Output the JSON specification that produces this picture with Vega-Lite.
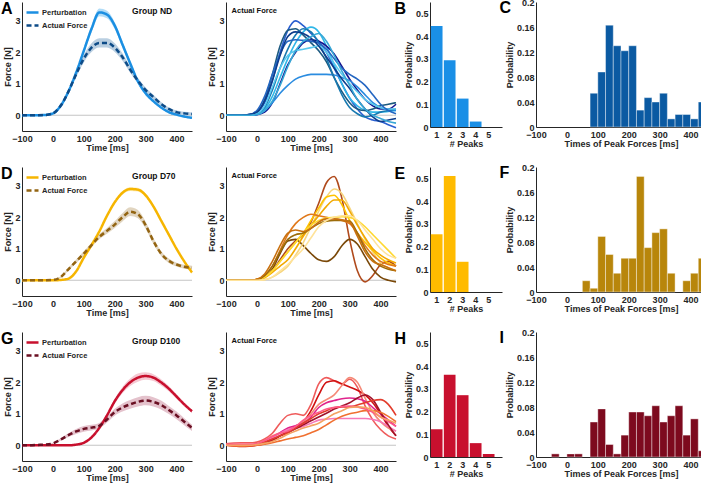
{
"$schema": "https://vega.github.io/schema/vega-lite/v6.json",
"padding": {"left": 0, "top": -2, "right": 0, "bottom": 0},
"autosize": {"type": "pad"},
"config": {
  "font": "Liberation Sans",
  "view": {"stroke": null},
  "axis": {"grid": false, "ticks": false, "labelOverlap": false, "labelFlush": false, "domainColor": "#262626", "domainWidth": 1, "labelFont": "Liberation Sans", "labelFontSize": 9, "labelFontWeight": "bold", "labelColor": "#262626", "titleFont": "Liberation Sans", "titleFontSize": 9, "titleFontWeight": "bold", "titleColor": "#262626"},
  "axisX": {"labelPadding": 3.5, "titlePadding": 0},
  "axisY": {"labelPadding": 2, "titlePadding": 2},
  "legend": {"padding": 0, "labelFont": "Liberation Sans", "labelFontSize": 7.5, "labelFontWeight": "bold", "labelColor": "#262626", "symbolStrokeWidth": 2.5, "symbolSize": 144, "rowPadding": -3, "labelOffset": 2},
  "title": {"anchor": "start", "frame": "bounds", "fontSize": 16, "fontWeight": "bold", "font": "Liberation Sans", "color": "#000000", "offset": -15, "baseline": "top"}
},
"datasets": {
"m1": [
{"s":"Perturbation","t":-100,"m":0,"lo":0,"hi":0},{"s":"Perturbation","t":-75,"m":0,"lo":0,"hi":0},{"s":"Perturbation","t":-50,"m":0,"lo":0,"hi":0},{"s":"Perturbation","t":-25,"m":0.01,"lo":0.005,"hi":0.015},{"s":"Perturbation","t":0,"m":0.06,"lo":0.05,"hi":0.07},{"s":"Perturbation","t":25,"m":0.3,"lo":0.27,"hi":0.33},{"s":"Perturbation","t":50,"m":0.75,"lo":0.7,"hi":0.8},{"s":"Perturbation","t":75,"m":1.35,"lo":1.28,"hi":1.42},{"s":"Perturbation","t":100,"m":2.05,"lo":1.96,"hi":2.14},{"s":"Perturbation","t":125,"m":2.75,"lo":2.64,"hi":2.86},{"s":"Perturbation","t":150,"m":3.27,"lo":3.15,"hi":3.39},{"s":"Perturbation","t":175,"m":3.2,"lo":3.08,"hi":3.32},{"s":"Perturbation","t":200,"m":2.85,"lo":2.74,"hi":2.96},{"s":"Perturbation","t":225,"m":2.25,"lo":2.15,"hi":2.35},{"s":"Perturbation","t":250,"m":1.65,"lo":1.56,"hi":1.74},{"s":"Perturbation","t":275,"m":1.08,"lo":1.01,"hi":1.15},{"s":"Perturbation","t":300,"m":0.7,"lo":0.64,"hi":0.76},{"s":"Perturbation","t":325,"m":0.45,"lo":0.4,"hi":0.5},{"s":"Perturbation","t":350,"m":0.25,"lo":0.21,"hi":0.29},{"s":"Perturbation","t":375,"m":0.1,"lo":0.06,"hi":0.14},{"s":"Perturbation","t":400,"m":0.02,"lo":-0.02,"hi":0.06},{"s":"Perturbation","t":425,"m":-0.04,"lo":-0.08,"hi":0},{"s":"Perturbation","t":450,"m":-0.08,"lo":-0.12,"hi":-0.04},
{"s":"Actual Force","t":-100,"m":0,"lo":0,"hi":0},{"s":"Actual Force","t":-75,"m":0,"lo":0,"hi":0},{"s":"Actual Force","t":-50,"m":0,"lo":0,"hi":0},{"s":"Actual Force","t":-25,"m":0.01,"lo":0.005,"hi":0.015},{"s":"Actual Force","t":0,"m":0.06,"lo":0.05,"hi":0.07},{"s":"Actual Force","t":25,"m":0.3,"lo":0.27,"hi":0.33},{"s":"Actual Force","t":50,"m":0.75,"lo":0.69,"hi":0.81},{"s":"Actual Force","t":75,"m":1.3,"lo":1.21,"hi":1.39},{"s":"Actual Force","t":100,"m":1.8,"lo":1.68,"hi":1.92},{"s":"Actual Force","t":125,"m":2.15,"lo":2.01,"hi":2.29},{"s":"Actual Force","t":150,"m":2.3,"lo":2.15,"hi":2.45},{"s":"Actual Force","t":175,"m":2.3,"lo":2.15,"hi":2.45},{"s":"Actual Force","t":200,"m":2.15,"lo":2.01,"hi":2.29},{"s":"Actual Force","t":225,"m":1.85,"lo":1.73,"hi":1.97},{"s":"Actual Force","t":250,"m":1.45,"lo":1.35,"hi":1.55},{"s":"Actual Force","t":275,"m":1.1,"lo":1.01,"hi":1.19},{"s":"Actual Force","t":300,"m":0.8,"lo":0.72,"hi":0.88},{"s":"Actual Force","t":325,"m":0.58,"lo":0.51,"hi":0.65},{"s":"Actual Force","t":350,"m":0.36,"lo":0.3,"hi":0.42},{"s":"Actual Force","t":375,"m":0.2,"lo":0.15,"hi":0.25},{"s":"Actual Force","t":400,"m":0.1,"lo":0.05,"hi":0.15},{"s":"Actual Force","t":425,"m":0.06,"lo":0.01,"hi":0.11},{"s":"Actual Force","t":450,"m":0.04,"lo":-0.01,"hi":0.09}
],
"m2": [
{"s":"Perturbation","t":-100,"m":0,"lo":0,"hi":0},{"s":"Perturbation","t":-75,"m":0,"lo":0,"hi":0},{"s":"Perturbation","t":-50,"m":0,"lo":0,"hi":0},{"s":"Perturbation","t":-25,"m":0,"lo":0,"hi":0},{"s":"Perturbation","t":0,"m":0,"lo":0,"hi":0},{"s":"Perturbation","t":25,"m":0.01,"lo":0.005,"hi":0.015},{"s":"Perturbation","t":50,"m":0.05,"lo":0.04,"hi":0.06},{"s":"Perturbation","t":75,"m":0.28,"lo":0.26,"hi":0.3},{"s":"Perturbation","t":100,"m":0.72,"lo":0.69,"hi":0.75},{"s":"Perturbation","t":125,"m":1.12,"lo":1.08,"hi":1.16},{"s":"Perturbation","t":150,"m":1.55,"lo":1.5,"hi":1.6},{"s":"Perturbation","t":175,"m":2.05,"lo":2.0,"hi":2.1},{"s":"Perturbation","t":200,"m":2.48,"lo":2.43,"hi":2.53},{"s":"Perturbation","t":225,"m":2.78,"lo":2.72,"hi":2.84},{"s":"Perturbation","t":250,"m":2.9,"lo":2.84,"hi":2.96},{"s":"Perturbation","t":275,"m":2.88,"lo":2.82,"hi":2.94},{"s":"Perturbation","t":300,"m":2.7,"lo":2.64,"hi":2.76},{"s":"Perturbation","t":325,"m":2.35,"lo":2.3,"hi":2.4},{"s":"Perturbation","t":350,"m":1.9,"lo":1.85,"hi":1.95},{"s":"Perturbation","t":375,"m":1.45,"lo":1.4,"hi":1.5},{"s":"Perturbation","t":400,"m":1.0,"lo":0.95,"hi":1.05},{"s":"Perturbation","t":425,"m":0.6,"lo":0.55,"hi":0.65},{"s":"Perturbation","t":450,"m":0.25,"lo":0.2,"hi":0.3},
{"s":"Actual Force","t":-100,"m":0,"lo":0,"hi":0},{"s":"Actual Force","t":-75,"m":0,"lo":0,"hi":0},{"s":"Actual Force","t":-50,"m":0,"lo":0,"hi":0},{"s":"Actual Force","t":-25,"m":0,"lo":0,"hi":0},{"s":"Actual Force","t":0,"m":0.01,"lo":0.005,"hi":0.015},{"s":"Actual Force","t":25,"m":0.1,"lo":0.07,"hi":0.13},{"s":"Actual Force","t":50,"m":0.35,"lo":0.3,"hi":0.4},{"s":"Actual Force","t":75,"m":0.6,"lo":0.54,"hi":0.66},{"s":"Actual Force","t":100,"m":0.85,"lo":0.78,"hi":0.92},{"s":"Actual Force","t":125,"m":1.12,"lo":1.05,"hi":1.19},{"s":"Actual Force","t":150,"m":1.38,"lo":1.3,"hi":1.46},{"s":"Actual Force","t":175,"m":1.57,"lo":1.48,"hi":1.66},{"s":"Actual Force","t":200,"m":1.77,"lo":1.66,"hi":1.88},{"s":"Actual Force","t":225,"m":2.0,"lo":1.87,"hi":2.13},{"s":"Actual Force","t":250,"m":2.18,"lo":2.04,"hi":2.32},{"s":"Actual Force","t":275,"m":2.1,"lo":1.97,"hi":2.23},{"s":"Actual Force","t":300,"m":1.75,"lo":1.64,"hi":1.86},{"s":"Actual Force","t":325,"m":1.25,"lo":1.16,"hi":1.34},{"s":"Actual Force","t":350,"m":0.85,"lo":0.77,"hi":0.93},{"s":"Actual Force","t":375,"m":0.62,"lo":0.55,"hi":0.69},{"s":"Actual Force","t":400,"m":0.5,"lo":0.44,"hi":0.56},{"s":"Actual Force","t":425,"m":0.43,"lo":0.37,"hi":0.49},{"s":"Actual Force","t":450,"m":0.4,"lo":0.34,"hi":0.46}
],
"m3": [
{"s":"Perturbation","t":-100,"m":0,"lo":0,"hi":0},{"s":"Perturbation","t":-75,"m":0,"lo":0,"hi":0},{"s":"Perturbation","t":-50,"m":0,"lo":0,"hi":0},{"s":"Perturbation","t":-25,"m":0,"lo":0,"hi":0},{"s":"Perturbation","t":0,"m":0,"lo":0,"hi":0},{"s":"Perturbation","t":25,"m":0,"lo":0,"hi":0},{"s":"Perturbation","t":50,"m":0,"lo":0,"hi":0},{"s":"Perturbation","t":75,"m":0.02,"lo":0.015,"hi":0.025},{"s":"Perturbation","t":100,"m":0.08,"lo":0.07,"hi":0.09},{"s":"Perturbation","t":125,"m":0.25,"lo":0.23,"hi":0.27},{"s":"Perturbation","t":150,"m":0.55,"lo":0.51,"hi":0.59},{"s":"Perturbation","t":175,"m":0.95,"lo":0.89,"hi":1.01},{"s":"Perturbation","t":200,"m":1.4,"lo":1.32,"hi":1.48},{"s":"Perturbation","t":225,"m":1.75,"lo":1.65,"hi":1.85},{"s":"Perturbation","t":250,"m":2.0,"lo":1.88,"hi":2.12},{"s":"Perturbation","t":275,"m":2.15,"lo":2.02,"hi":2.28},{"s":"Perturbation","t":300,"m":2.2,"lo":2.08,"hi":2.32},{"s":"Perturbation","t":325,"m":2.15,"lo":2.04,"hi":2.26},{"s":"Perturbation","t":350,"m":2.0,"lo":1.9,"hi":2.1},{"s":"Perturbation","t":375,"m":1.8,"lo":1.72,"hi":1.88},{"s":"Perturbation","t":400,"m":1.55,"lo":1.48,"hi":1.62},{"s":"Perturbation","t":425,"m":1.3,"lo":1.24,"hi":1.36},{"s":"Perturbation","t":450,"m":1.08,"lo":1.02,"hi":1.14},
{"s":"Actual Force","t":-100,"m":0,"lo":0,"hi":0},{"s":"Actual Force","t":-75,"m":0,"lo":0,"hi":0},{"s":"Actual Force","t":-50,"m":0.01,"lo":0,"hi":0.02},{"s":"Actual Force","t":-25,"m":0.02,"lo":0.01,"hi":0.03},{"s":"Actual Force","t":0,"m":0.06,"lo":0.04,"hi":0.08},{"s":"Actual Force","t":25,"m":0.18,"lo":0.14,"hi":0.22},{"s":"Actual Force","t":50,"m":0.32,"lo":0.26,"hi":0.38},{"s":"Actual Force","t":75,"m":0.44,"lo":0.36,"hi":0.52},{"s":"Actual Force","t":100,"m":0.52,"lo":0.43,"hi":0.61},{"s":"Actual Force","t":125,"m":0.56,"lo":0.47,"hi":0.65},{"s":"Actual Force","t":150,"m":0.62,"lo":0.53,"hi":0.71},{"s":"Actual Force","t":175,"m":0.82,"lo":0.72,"hi":0.92},{"s":"Actual Force","t":200,"m":1.05,"lo":0.94,"hi":1.16},{"s":"Actual Force","t":225,"m":1.2,"lo":1.07,"hi":1.33},{"s":"Actual Force","t":250,"m":1.3,"lo":1.16,"hi":1.44},{"s":"Actual Force","t":275,"m":1.38,"lo":1.23,"hi":1.53},{"s":"Actual Force","t":300,"m":1.42,"lo":1.27,"hi":1.57},{"s":"Actual Force","t":325,"m":1.38,"lo":1.23,"hi":1.53},{"s":"Actual Force","t":350,"m":1.28,"lo":1.14,"hi":1.42},{"s":"Actual Force","t":375,"m":1.12,"lo":0.99,"hi":1.25},{"s":"Actual Force","t":400,"m":0.95,"lo":0.83,"hi":1.07},{"s":"Actual Force","t":425,"m":0.75,"lo":0.64,"hi":0.86},{"s":"Actual Force","t":450,"m":0.55,"lo":0.45,"hi":0.65}
],
"i1": [
{"c":"c1","t":-100,"f":0},{"c":"c1","t":-75,"f":0},{"c":"c1","t":-50,"f":0},{"c":"c1","t":-25,"f":0.02},{"c":"c1","t":0,"f":0.1},{"c":"c1","t":25,"f":0.4},{"c":"c1","t":50,"f":1.1},{"c":"c1","t":75,"f":2.0},{"c":"c1","t":100,"f":2.7},{"c":"c1","t":125,"f":3.0},{"c":"c1","t":150,"f":2.85},{"c":"c1","t":175,"f":2.6},{"c":"c1","t":200,"f":2.35},{"c":"c1","t":225,"f":2.0},{"c":"c1","t":250,"f":1.5},{"c":"c1","t":275,"f":1.0},{"c":"c1","t":300,"f":0.55},{"c":"c1","t":325,"f":0.2},{"c":"c1","t":350,"f":-0.05},{"c":"c1","t":375,"f":-0.15},{"c":"c1","t":400,"f":-0.2},{"c":"c1","t":425,"f":-0.3},{"c":"c1","t":450,"f":-0.4},
{"c":"c2","t":-100,"f":0},{"c":"c2","t":-75,"f":0},{"c":"c2","t":-50,"f":0},{"c":"c2","t":-25,"f":0},{"c":"c2","t":0,"f":0.05},{"c":"c2","t":25,"f":0.2},{"c":"c2","t":50,"f":0.6},{"c":"c2","t":75,"f":1.2},{"c":"c2","t":100,"f":1.8},{"c":"c2","t":125,"f":2.3},{"c":"c2","t":150,"f":2.65},{"c":"c2","t":175,"f":2.8},{"c":"c2","t":200,"f":2.65},{"c":"c2","t":225,"f":2.2},{"c":"c2","t":250,"f":1.6},{"c":"c2","t":275,"f":1.0},{"c":"c2","t":300,"f":0.55},{"c":"c2","t":325,"f":0.3},{"c":"c2","t":350,"f":0.15},{"c":"c2","t":375,"f":0.1},{"c":"c2","t":400,"f":0.1},{"c":"c2","t":425,"f":0.12},{"c":"c2","t":450,"f":0.15},
{"c":"c3","t":-100,"f":0},{"c":"c3","t":-75,"f":0},{"c":"c3","t":-50,"f":0},{"c":"c3","t":-25,"f":0},{"c":"c3","t":0,"f":0.02},{"c":"c3","t":25,"f":0.1},{"c":"c3","t":50,"f":0.4},{"c":"c3","t":75,"f":1.0},{"c":"c3","t":100,"f":1.6},{"c":"c3","t":125,"f":2.0},{"c":"c3","t":150,"f":2.3},{"c":"c3","t":175,"f":2.4},{"c":"c3","t":200,"f":2.35},{"c":"c3","t":225,"f":2.2},{"c":"c3","t":250,"f":1.95},{"c":"c3","t":275,"f":1.55},{"c":"c3","t":300,"f":1.15},{"c":"c3","t":325,"f":0.8},{"c":"c3","t":350,"f":0.5},{"c":"c3","t":375,"f":0.3},{"c":"c3","t":400,"f":0.2},{"c":"c3","t":425,"f":0.2},{"c":"c3","t":450,"f":0.35},
{"c":"c4","t":-100,"f":0},{"c":"c4","t":-75,"f":0},{"c":"c4","t":-50,"f":0},{"c":"c4","t":-25,"f":0},{"c":"c4","t":0,"f":0.02},{"c":"c4","t":25,"f":0.15},{"c":"c4","t":50,"f":0.4},{"c":"c4","t":75,"f":0.7},{"c":"c4","t":100,"f":0.95},{"c":"c4","t":125,"f":1.15},{"c":"c4","t":150,"f":1.25},{"c":"c4","t":175,"f":1.3},{"c":"c4","t":200,"f":1.3},{"c":"c4","t":225,"f":1.3},{"c":"c4","t":250,"f":1.28},{"c":"c4","t":275,"f":1.2},{"c":"c4","t":300,"f":1.1},{"c":"c4","t":325,"f":0.9},{"c":"c4","t":350,"f":0.65},{"c":"c4","t":375,"f":0.4},{"c":"c4","t":400,"f":0.25},{"c":"c4","t":425,"f":0.18},{"c":"c4","t":450,"f":0.15},
{"c":"c5","t":-100,"f":0},{"c":"c5","t":-75,"f":0},{"c":"c5","t":-50,"f":0},{"c":"c5","t":-25,"f":0.02},{"c":"c5","t":0,"f":0.1},{"c":"c5","t":25,"f":0.5},{"c":"c5","t":50,"f":1.3},{"c":"c5","t":75,"f":2.2},{"c":"c5","t":100,"f":2.7},{"c":"c5","t":125,"f":2.75},{"c":"c5","t":150,"f":2.55},{"c":"c5","t":175,"f":2.3},{"c":"c5","t":200,"f":2.05},{"c":"c5","t":225,"f":1.7},{"c":"c5","t":250,"f":1.2},{"c":"c5","t":275,"f":0.75},{"c":"c5","t":300,"f":0.4},{"c":"c5","t":325,"f":0.2},{"c":"c5","t":350,"f":0.15},{"c":"c5","t":375,"f":0.2},{"c":"c5","t":400,"f":0.3},{"c":"c5","t":425,"f":0.35},{"c":"c5","t":450,"f":0.4},
{"c":"c6","t":-100,"f":0},{"c":"c6","t":-75,"f":0},{"c":"c6","t":-50,"f":0},{"c":"c6","t":-25,"f":0},{"c":"c6","t":0,"f":0.05},{"c":"c6","t":25,"f":0.25},{"c":"c6","t":50,"f":0.8},{"c":"c6","t":75,"f":1.5},{"c":"c6","t":100,"f":2.1},{"c":"c6","t":125,"f":2.55},{"c":"c6","t":150,"f":2.75},{"c":"c6","t":175,"f":2.65},{"c":"c6","t":200,"f":2.3},{"c":"c6","t":225,"f":1.8},{"c":"c6","t":250,"f":1.2},{"c":"c6","t":275,"f":0.65},{"c":"c6","t":300,"f":0.25},{"c":"c6","t":325,"f":0.05},{"c":"c6","t":350,"f":-0.05},{"c":"c6","t":375,"f":0},{"c":"c6","t":400,"f":0.1},{"c":"c6","t":425,"f":0.15},{"c":"c6","t":450,"f":0.2},
{"c":"c7","t":-100,"f":0},{"c":"c7","t":-75,"f":0},{"c":"c7","t":-50,"f":0},{"c":"c7","t":-25,"f":0},{"c":"c7","t":0,"f":0.05},{"c":"c7","t":25,"f":0.3},{"c":"c7","t":50,"f":0.9},{"c":"c7","t":75,"f":1.5},{"c":"c7","t":100,"f":1.9},{"c":"c7","t":125,"f":2.05},{"c":"c7","t":150,"f":2.1},{"c":"c7","t":175,"f":2.15},{"c":"c7","t":200,"f":2.2},{"c":"c7","t":225,"f":2.0},{"c":"c7","t":250,"f":1.65},{"c":"c7","t":275,"f":1.3},{"c":"c7","t":300,"f":1.0},{"c":"c7","t":325,"f":0.75},{"c":"c7","t":350,"f":0.5},{"c":"c7","t":375,"f":0.35},{"c":"c7","t":400,"f":0.25},{"c":"c7","t":425,"f":0.2},{"c":"c7","t":450,"f":0.2},
{"c":"c8","t":-100,"f":0},{"c":"c8","t":-75,"f":0},{"c":"c8","t":-50,"f":0},{"c":"c8","t":-25,"f":0.02},{"c":"c8","t":0,"f":0.15},{"c":"c8","t":25,"f":0.6},{"c":"c8","t":50,"f":1.3},{"c":"c8","t":75,"f":1.95},{"c":"c8","t":100,"f":2.35},{"c":"c8","t":125,"f":2.4},{"c":"c8","t":150,"f":2.38},{"c":"c8","t":175,"f":2.35},{"c":"c8","t":200,"f":2.3},{"c":"c8","t":225,"f":2.1},{"c":"c8","t":250,"f":1.8},{"c":"c8","t":275,"f":1.5},{"c":"c8","t":300,"f":1.3},{"c":"c8","t":325,"f":1.15},{"c":"c8","t":350,"f":0.95},{"c":"c8","t":375,"f":0.65},{"c":"c8","t":400,"f":0.35},{"c":"c8","t":425,"f":0.15},{"c":"c8","t":450,"f":0.05},
{"c":"c9","t":-100,"f":0},{"c":"c9","t":-75,"f":0},{"c":"c9","t":-50,"f":0},{"c":"c9","t":-25,"f":0.02},{"c":"c9","t":0,"f":0.1},{"c":"c9","t":25,"f":0.45},{"c":"c9","t":50,"f":1.1},{"c":"c9","t":75,"f":1.9},{"c":"c9","t":100,"f":2.5},{"c":"c9","t":125,"f":2.65},{"c":"c9","t":150,"f":2.6},{"c":"c9","t":175,"f":2.45},{"c":"c9","t":200,"f":2.2},{"c":"c9","t":225,"f":1.85},{"c":"c9","t":250,"f":1.5},{"c":"c9","t":275,"f":1.15},{"c":"c9","t":300,"f":0.85},{"c":"c9","t":325,"f":0.5},{"c":"c9","t":350,"f":0.2},{"c":"c9","t":375,"f":-0.05},{"c":"c9","t":400,"f":-0.2},{"c":"c9","t":425,"f":-0.15},{"c":"c9","t":450,"f":-0.1},
{"c":"c10","t":-100,"f":0},{"c":"c10","t":-75,"f":0},{"c":"c10","t":-50,"f":0},{"c":"c10","t":-25,"f":0},{"c":"c10","t":0,"f":0.03},{"c":"c10","t":25,"f":0.15},{"c":"c10","t":50,"f":0.45},{"c":"c10","t":75,"f":0.95},{"c":"c10","t":100,"f":1.55},{"c":"c10","t":125,"f":2.05},{"c":"c10","t":150,"f":2.35},{"c":"c10","t":175,"f":2.5},{"c":"c10","t":200,"f":2.6},{"c":"c10","t":225,"f":2.35},{"c":"c10","t":250,"f":1.9},{"c":"c10","t":275,"f":1.4},{"c":"c10","t":300,"f":0.95},{"c":"c10","t":325,"f":0.5},{"c":"c10","t":350,"f":0.2},{"c":"c10","t":375,"f":0},{"c":"c10","t":400,"f":-0.1},{"c":"c10","t":425,"f":-0.2},{"c":"c10","t":450,"f":-0.25}
],
"i2": [
{"c":"c1","t":-100,"f":0},{"c":"c1","t":-75,"f":0},{"c":"c1","t":-50,"f":0},{"c":"c1","t":-25,"f":0},{"c":"c1","t":0,"f":0.02},{"c":"c1","t":25,"f":0.1},{"c":"c1","t":50,"f":0.3},{"c":"c1","t":75,"f":0.65},{"c":"c1","t":100,"f":1.0},{"c":"c1","t":125,"f":1.25},{"c":"c1","t":150,"f":1.45},{"c":"c1","t":175,"f":1.85},{"c":"c1","t":200,"f":2.45},{"c":"c1","t":225,"f":3.1},{"c":"c1","t":250,"f":3.3},{"c":"c1","t":275,"f":2.6},{"c":"c1","t":300,"f":1.3},{"c":"c1","t":325,"f":0.3},{"c":"c1","t":350,"f":-0.05},{"c":"c1","t":375,"f":0.15},{"c":"c1","t":400,"f":0.5},{"c":"c1","t":425,"f":0.6},{"c":"c1","t":450,"f":0.45},
{"c":"c2","t":-100,"f":0},{"c":"c2","t":-75,"f":0},{"c":"c2","t":-50,"f":0},{"c":"c2","t":-25,"f":0},{"c":"c2","t":0,"f":0.02},{"c":"c2","t":25,"f":0.1},{"c":"c2","t":50,"f":0.35},{"c":"c2","t":75,"f":0.85},{"c":"c2","t":100,"f":1.25},{"c":"c2","t":125,"f":1.3},{"c":"c2","t":150,"f":1.1},{"c":"c2","t":175,"f":0.85},{"c":"c2","t":200,"f":0.65},{"c":"c2","t":225,"f":0.6},{"c":"c2","t":250,"f":0.75},{"c":"c2","t":275,"f":1.1},{"c":"c2","t":300,"f":1.3},{"c":"c2","t":325,"f":1.15},{"c":"c2","t":350,"f":0.75},{"c":"c2","t":375,"f":0.35},{"c":"c2","t":400,"f":0.1},{"c":"c2","t":425,"f":0},{"c":"c2","t":450,"f":-0.05},
{"c":"c3","t":-100,"f":0},{"c":"c3","t":-75,"f":0},{"c":"c3","t":-50,"f":0},{"c":"c3","t":-25,"f":0},{"c":"c3","t":0,"f":0},{"c":"c3","t":25,"f":0.02},{"c":"c3","t":50,"f":0.1},{"c":"c3","t":75,"f":0.25},{"c":"c3","t":100,"f":0.45},{"c":"c3","t":125,"f":0.8},{"c":"c3","t":150,"f":1.2},{"c":"c3","t":175,"f":1.7},{"c":"c3","t":200,"f":2.2},{"c":"c3","t":225,"f":2.65},{"c":"c3","t":250,"f":2.9},{"c":"c3","t":275,"f":2.75},{"c":"c3","t":300,"f":2.3},{"c":"c3","t":325,"f":1.8},{"c":"c3","t":350,"f":1.3},{"c":"c3","t":375,"f":0.9},{"c":"c3","t":400,"f":0.55},{"c":"c3","t":425,"f":0.4},{"c":"c3","t":450,"f":0.3},
{"c":"c4","t":-100,"f":0},{"c":"c4","t":-75,"f":0},{"c":"c4","t":-50,"f":0},{"c":"c4","t":-25,"f":0},{"c":"c4","t":0,"f":0.02},{"c":"c4","t":25,"f":0.1},{"c":"c4","t":50,"f":0.3},{"c":"c4","t":75,"f":0.6},{"c":"c4","t":100,"f":0.9},{"c":"c4","t":125,"f":1.2},{"c":"c4","t":150,"f":1.5},{"c":"c4","t":175,"f":1.9},{"c":"c4","t":200,"f":2.3},{"c":"c4","t":225,"f":2.65},{"c":"c4","t":250,"f":2.7},{"c":"c4","t":275,"f":2.4},{"c":"c4","t":300,"f":1.9},{"c":"c4","t":325,"f":1.5},{"c":"c4","t":350,"f":1.2},{"c":"c4","t":375,"f":0.95},{"c":"c4","t":400,"f":0.7},{"c":"c4","t":425,"f":0.55},{"c":"c4","t":450,"f":0.45},
{"c":"c5","t":-100,"f":0},{"c":"c5","t":-75,"f":0},{"c":"c5","t":-50,"f":0},{"c":"c5","t":-25,"f":0},{"c":"c5","t":0,"f":0.02},{"c":"c5","t":25,"f":0.08},{"c":"c5","t":50,"f":0.25},{"c":"c5","t":75,"f":0.45},{"c":"c5","t":100,"f":0.65},{"c":"c5","t":125,"f":1.0},{"c":"c5","t":150,"f":1.4},{"c":"c5","t":175,"f":1.75},{"c":"c5","t":200,"f":2.05},{"c":"c5","t":225,"f":2.35},{"c":"c5","t":250,"f":2.55},{"c":"c5","t":275,"f":2.55},{"c":"c5","t":300,"f":2.2},{"c":"c5","t":325,"f":1.75},{"c":"c5","t":350,"f":1.35},{"c":"c5","t":375,"f":1.0},{"c":"c5","t":400,"f":0.8},{"c":"c5","t":425,"f":0.65},{"c":"c5","t":450,"f":0.55},
{"c":"c6","t":-100,"f":0},{"c":"c6","t":-75,"f":0},{"c":"c6","t":-50,"f":0},{"c":"c6","t":-25,"f":0},{"c":"c6","t":0,"f":0.03},{"c":"c6","t":25,"f":0.15},{"c":"c6","t":50,"f":0.45},{"c":"c6","t":75,"f":0.95},{"c":"c6","t":100,"f":1.45},{"c":"c6","t":125,"f":1.8},{"c":"c6","t":150,"f":2.0},{"c":"c6","t":175,"f":2.1},{"c":"c6","t":200,"f":2.05},{"c":"c6","t":225,"f":2.0},{"c":"c6","t":250,"f":1.95},{"c":"c6","t":275,"f":1.9},{"c":"c6","t":300,"f":1.8},{"c":"c6","t":325,"f":1.5},{"c":"c6","t":350,"f":1.1},{"c":"c6","t":375,"f":0.8},{"c":"c6","t":400,"f":0.6},{"c":"c6","t":425,"f":0.5},{"c":"c6","t":450,"f":0.45},
{"c":"c7","t":-100,"f":0},{"c":"c7","t":-75,"f":0},{"c":"c7","t":-50,"f":0},{"c":"c7","t":-25,"f":0},{"c":"c7","t":0,"f":0.02},{"c":"c7","t":25,"f":0.1},{"c":"c7","t":50,"f":0.3},{"c":"c7","t":75,"f":0.6},{"c":"c7","t":100,"f":0.9},{"c":"c7","t":125,"f":1.2},{"c":"c7","t":150,"f":1.5},{"c":"c7","t":175,"f":1.75},{"c":"c7","t":200,"f":1.9},{"c":"c7","t":225,"f":1.98},{"c":"c7","t":250,"f":2.0},{"c":"c7","t":275,"f":2.02},{"c":"c7","t":300,"f":2.0},{"c":"c7","t":325,"f":1.9},{"c":"c7","t":350,"f":1.7},{"c":"c7","t":375,"f":1.45},{"c":"c7","t":400,"f":1.2},{"c":"c7","t":425,"f":0.95},{"c":"c7","t":450,"f":0.7},
{"c":"c8","t":-100,"f":0},{"c":"c8","t":-75,"f":0},{"c":"c8","t":-50,"f":0},{"c":"c8","t":-25,"f":0},{"c":"c8","t":0,"f":0.02},{"c":"c8","t":25,"f":0.15},{"c":"c8","t":50,"f":0.45},{"c":"c8","t":75,"f":0.9},{"c":"c8","t":100,"f":1.3},{"c":"c8","t":125,"f":1.45},{"c":"c8","t":150,"f":1.5},{"c":"c8","t":175,"f":1.65},{"c":"c8","t":200,"f":1.8},{"c":"c8","t":225,"f":1.88},{"c":"c8","t":250,"f":1.9},{"c":"c8","t":275,"f":1.9},{"c":"c8","t":300,"f":1.88},{"c":"c8","t":325,"f":1.5},{"c":"c8","t":350,"f":1.0},{"c":"c8","t":375,"f":0.65},{"c":"c8","t":400,"f":0.45},{"c":"c8","t":425,"f":0.35},{"c":"c8","t":450,"f":0.3},
{"c":"c9","t":-100,"f":0},{"c":"c9","t":-75,"f":0},{"c":"c9","t":-50,"f":0},{"c":"c9","t":-25,"f":0},{"c":"c9","t":0,"f":0.03},{"c":"c9","t":25,"f":0.2},{"c":"c9","t":50,"f":0.6},{"c":"c9","t":75,"f":1.1},{"c":"c9","t":100,"f":1.5},{"c":"c9","t":125,"f":1.6},{"c":"c9","t":150,"f":1.55},{"c":"c9","t":175,"f":1.65},{"c":"c9","t":200,"f":1.85},{"c":"c9","t":225,"f":1.95},{"c":"c9","t":250,"f":1.95},{"c":"c9","t":275,"f":1.92},{"c":"c9","t":300,"f":1.85},{"c":"c9","t":325,"f":1.4},{"c":"c9","t":350,"f":0.9},{"c":"c9","t":375,"f":0.6},{"c":"c9","t":400,"f":0.5},{"c":"c9","t":425,"f":0.4},{"c":"c9","t":450,"f":0.3},
{"c":"c10","t":-100,"f":0},{"c":"c10","t":-75,"f":0},{"c":"c10","t":-50,"f":0},{"c":"c10","t":-25,"f":0},{"c":"c10","t":0,"f":0},{"c":"c10","t":25,"f":0.02},{"c":"c10","t":50,"f":0.1},{"c":"c10","t":75,"f":0.3},{"c":"c10","t":100,"f":0.5},{"c":"c10","t":125,"f":0.75},{"c":"c10","t":150,"f":1.0},{"c":"c10","t":175,"f":1.35},{"c":"c10","t":200,"f":1.7},{"c":"c10","t":225,"f":1.9},{"c":"c10","t":250,"f":2.0},{"c":"c10","t":275,"f":2.05},{"c":"c10","t":300,"f":2.05},{"c":"c10","t":325,"f":1.9},{"c":"c10","t":350,"f":1.6},{"c":"c10","t":375,"f":1.3},{"c":"c10","t":400,"f":1.0},{"c":"c10","t":425,"f":0.8},{"c":"c10","t":450,"f":0.7}
],
"i3": [
{"c":"c1","t":-100,"f":0.05},{"c":"c1","t":-75,"f":0.07},{"c":"c1","t":-50,"f":0.08},{"c":"c1","t":-25,"f":0.08},{"c":"c1","t":0,"f":0.1},{"c":"c1","t":25,"f":0.2},{"c":"c1","t":50,"f":0.38},{"c":"c1","t":75,"f":0.7},{"c":"c1","t":100,"f":0.95},{"c":"c1","t":125,"f":1.0},{"c":"c1","t":150,"f":0.95},{"c":"c1","t":175,"f":1.3},{"c":"c1","t":200,"f":1.95},{"c":"c1","t":225,"f":2.15},{"c":"c1","t":250,"f":2.05},{"c":"c1","t":275,"f":1.95},{"c":"c1","t":300,"f":2.1},{"c":"c1","t":325,"f":1.85},{"c":"c1","t":350,"f":1.25},{"c":"c1","t":375,"f":0.8},{"c":"c1","t":400,"f":0.5},{"c":"c1","t":425,"f":0.3},{"c":"c1","t":450,"f":0.2},
{"c":"c2","t":-100,"f":0},{"c":"c2","t":-75,"f":-0.02},{"c":"c2","t":-50,"f":-0.04},{"c":"c2","t":-25,"f":-0.03},{"c":"c2","t":0,"f":0},{"c":"c2","t":25,"f":0.05},{"c":"c2","t":50,"f":0.15},{"c":"c2","t":75,"f":0.3},{"c":"c2","t":100,"f":0.45},{"c":"c2","t":125,"f":0.6},{"c":"c2","t":150,"f":0.75},{"c":"c2","t":175,"f":1.1},{"c":"c2","t":200,"f":1.6},{"c":"c2","t":225,"f":2.0},{"c":"c2","t":250,"f":2.05},{"c":"c2","t":275,"f":1.95},{"c":"c2","t":300,"f":1.85},{"c":"c2","t":325,"f":1.75},{"c":"c2","t":350,"f":1.6},{"c":"c2","t":375,"f":1.35},{"c":"c2","t":400,"f":1.0},{"c":"c2","t":425,"f":0.6},{"c":"c2","t":450,"f":0.3},
{"c":"c3","t":-100,"f":0.02},{"c":"c3","t":-75,"f":0.02},{"c":"c3","t":-50,"f":0.02},{"c":"c3","t":-25,"f":0.03},{"c":"c3","t":0,"f":0.05},{"c":"c3","t":25,"f":0.15},{"c":"c3","t":50,"f":0.3},{"c":"c3","t":75,"f":0.4},{"c":"c3","t":100,"f":0.5},{"c":"c3","t":125,"f":0.6},{"c":"c3","t":150,"f":0.75},{"c":"c3","t":175,"f":1.0},{"c":"c3","t":200,"f":1.3},{"c":"c3","t":225,"f":1.45},{"c":"c3","t":250,"f":1.6},{"c":"c3","t":275,"f":1.9},{"c":"c3","t":300,"f":2.15},{"c":"c3","t":325,"f":2.0},{"c":"c3","t":350,"f":1.5},{"c":"c3","t":375,"f":1.05},{"c":"c3","t":400,"f":0.75},{"c":"c3","t":425,"f":0.55},{"c":"c3","t":450,"f":0.45},
{"c":"c4","t":-100,"f":0},{"c":"c4","t":-75,"f":0},{"c":"c4","t":-50,"f":0},{"c":"c4","t":-25,"f":0},{"c":"c4","t":0,"f":0.03},{"c":"c4","t":25,"f":0.12},{"c":"c4","t":50,"f":0.25},{"c":"c4","t":75,"f":0.4},{"c":"c4","t":100,"f":0.55},{"c":"c4","t":125,"f":0.62},{"c":"c4","t":150,"f":0.7},{"c":"c4","t":175,"f":0.9},{"c":"c4","t":200,"f":1.2},{"c":"c4","t":225,"f":1.35},{"c":"c4","t":250,"f":1.42},{"c":"c4","t":275,"f":1.48},{"c":"c4","t":300,"f":1.5},{"c":"c4","t":325,"f":1.48},{"c":"c4","t":350,"f":1.4},{"c":"c4","t":375,"f":1.2},{"c":"c4","t":400,"f":1.0},{"c":"c4","t":425,"f":0.8},{"c":"c4","t":450,"f":0.6},
{"c":"c5","t":-100,"f":0},{"c":"c5","t":-75,"f":0},{"c":"c5","t":-50,"f":0},{"c":"c5","t":-25,"f":0},{"c":"c5","t":0,"f":0.03},{"c":"c5","t":25,"f":0.12},{"c":"c5","t":50,"f":0.25},{"c":"c5","t":75,"f":0.38},{"c":"c5","t":100,"f":0.5},{"c":"c5","t":125,"f":0.55},{"c":"c5","t":150,"f":0.6},{"c":"c5","t":175,"f":0.7},{"c":"c5","t":200,"f":0.8},{"c":"c5","t":225,"f":0.83},{"c":"c5","t":250,"f":0.85},{"c":"c5","t":275,"f":0.85},{"c":"c5","t":300,"f":0.85},{"c":"c5","t":325,"f":0.85},{"c":"c5","t":350,"f":0.85},{"c":"c5","t":375,"f":0.82},{"c":"c5","t":400,"f":0.75},{"c":"c5","t":425,"f":0.6},{"c":"c5","t":450,"f":0.45},
{"c":"c6","t":-100,"f":0},{"c":"c6","t":-75,"f":0},{"c":"c6","t":-50,"f":0},{"c":"c6","t":-25,"f":0},{"c":"c6","t":0,"f":0.02},{"c":"c6","t":25,"f":0.08},{"c":"c6","t":50,"f":0.18},{"c":"c6","t":75,"f":0.3},{"c":"c6","t":100,"f":0.4},{"c":"c6","t":125,"f":0.52},{"c":"c6","t":150,"f":0.65},{"c":"c6","t":175,"f":0.78},{"c":"c6","t":200,"f":0.9},{"c":"c6","t":225,"f":1.02},{"c":"c6","t":250,"f":1.15},{"c":"c6","t":275,"f":1.25},{"c":"c6","t":300,"f":1.35},{"c":"c6","t":325,"f":1.5},{"c":"c6","t":350,"f":1.6},{"c":"c6","t":375,"f":1.45},{"c":"c6","t":400,"f":1.05},{"c":"c6","t":425,"f":0.65},{"c":"c6","t":450,"f":0.3},
{"c":"c7","t":-100,"f":0},{"c":"c7","t":-75,"f":-0.02},{"c":"c7","t":-50,"f":-0.03},{"c":"c7","t":-25,"f":-0.02},{"c":"c7","t":0,"f":0},{"c":"c7","t":25,"f":0.03},{"c":"c7","t":50,"f":0.08},{"c":"c7","t":75,"f":0.14},{"c":"c7","t":100,"f":0.2},{"c":"c7","t":125,"f":0.25},{"c":"c7","t":150,"f":0.3},{"c":"c7","t":175,"f":0.4},{"c":"c7","t":200,"f":0.5},{"c":"c7","t":225,"f":0.65},{"c":"c7","t":250,"f":0.8},{"c":"c7","t":275,"f":0.92},{"c":"c7","t":300,"f":1.0},{"c":"c7","t":325,"f":1.05},{"c":"c7","t":350,"f":1.1},{"c":"c7","t":375,"f":1.1},{"c":"c7","t":400,"f":1.05},{"c":"c7","t":425,"f":0.92},{"c":"c7","t":450,"f":0.75},
{"c":"c8","t":-100,"f":0},{"c":"c8","t":-75,"f":0},{"c":"c8","t":-50,"f":0},{"c":"c8","t":-25,"f":0},{"c":"c8","t":0,"f":0.02},{"c":"c8","t":25,"f":0.1},{"c":"c8","t":50,"f":0.2},{"c":"c8","t":75,"f":0.3},{"c":"c8","t":100,"f":0.4},{"c":"c8","t":125,"f":0.55},{"c":"c8","t":150,"f":0.7},{"c":"c8","t":175,"f":0.85},{"c":"c8","t":200,"f":1.0},{"c":"c8","t":225,"f":1.1},{"c":"c8","t":250,"f":1.2},{"c":"c8","t":275,"f":1.22},{"c":"c8","t":300,"f":1.22},{"c":"c8","t":325,"f":1.28},{"c":"c8","t":350,"f":1.35},{"c":"c8","t":375,"f":1.42},{"c":"c8","t":400,"f":1.45},{"c":"c8","t":425,"f":1.3},{"c":"c8","t":450,"f":0.95},
{"c":"c9","t":-100,"f":0.02},{"c":"c9","t":-75,"f":0.03},{"c":"c9","t":-50,"f":0.03},{"c":"c9","t":-25,"f":0.03},{"c":"c9","t":0,"f":0.05},{"c":"c9","t":25,"f":0.15},{"c":"c9","t":50,"f":0.28},{"c":"c9","t":75,"f":0.38},{"c":"c9","t":100,"f":0.45},{"c":"c9","t":125,"f":0.6},{"c":"c9","t":150,"f":0.8},{"c":"c9","t":175,"f":0.95},{"c":"c9","t":200,"f":1.05},{"c":"c9","t":225,"f":1.15},{"c":"c9","t":250,"f":1.2},{"c":"c9","t":275,"f":1.23},{"c":"c9","t":300,"f":1.25},{"c":"c9","t":325,"f":1.22},{"c":"c9","t":350,"f":1.15},{"c":"c9","t":375,"f":1.05},{"c":"c9","t":400,"f":0.9},{"c":"c9","t":425,"f":0.75},{"c":"c9","t":450,"f":0.6},
{"c":"c10","t":-100,"f":0},{"c":"c10","t":-75,"f":0},{"c":"c10","t":-50,"f":0},{"c":"c10","t":-25,"f":0},{"c":"c10","t":0,"f":0.02},{"c":"c10","t":25,"f":0.06},{"c":"c10","t":50,"f":0.12},{"c":"c10","t":75,"f":0.22},{"c":"c10","t":100,"f":0.35},{"c":"c10","t":125,"f":0.45},{"c":"c10","t":150,"f":0.55},{"c":"c10","t":175,"f":0.62},{"c":"c10","t":200,"f":0.7},{"c":"c10","t":225,"f":0.85},{"c":"c10","t":250,"f":1.0},{"c":"c10","t":275,"f":1.1},{"c":"c10","t":300,"f":1.2},{"c":"c10","t":325,"f":1.22},{"c":"c10","t":350,"f":1.2},{"c":"c10","t":375,"f":1.1},{"c":"c10","t":400,"f":0.9},{"c":"c10","t":425,"f":0.8},{"c":"c10","t":450,"f":0.7}
],
"p1": [{"n":1,"p":0.444},{"n":2,"p":0.294},{"n":3,"p":0.125},{"n":4,"p":0.024},{"n":5,"p":0}],
"p2": [{"n":1,"p":0.254},{"n":2,"p":0.51},{"n":3,"p":0.133},{"n":4,"p":0},{"n":5,"p":0}],
"p3": [{"n":1,"p":0.122},{"n":2,"p":0.362},{"n":3,"p":0.272},{"n":4,"p":0.061},{"n":5,"p":0.013}],
"h1": [{"b0":75,"b1":100,"p":0.054},{"b0":100,"b1":125,"p":0.088},{"b0":125,"b1":150,"p":0.163},{"b0":150,"b1":175,"p":0.13},{"b0":175,"b1":200,"p":0.122},{"b0":200,"b1":225,"p":0.13},{"b0":225,"b1":250,"p":0.027},{"b0":250,"b1":275,"p":0.047},{"b0":275,"b1":300,"p":0.04},{"b0":300,"b1":325,"p":0.054},{"b0":325,"b1":350,"p":0.013},{"b0":350,"b1":375,"p":0.02},{"b0":375,"b1":400,"p":0.02},{"b0":400,"b1":425,"p":0.013},{"b0":425,"b1":450,"p":0.04}],
"h2": [{"b0":50,"b1":75,"p":0.018},{"b0":75,"b1":100,"p":0.006},{"b0":100,"b1":125,"p":0.089},{"b0":125,"b1":150,"p":0.06},{"b0":150,"b1":175,"p":0.03},{"b0":175,"b1":200,"p":0.054},{"b0":200,"b1":225,"p":0.054},{"b0":225,"b1":250,"p":0.185},{"b0":250,"b1":275,"p":0.071},{"b0":275,"b1":300,"p":0.095},{"b0":300,"b1":325,"p":0.101},{"b0":325,"b1":350,"p":0.03},{"b0":375,"b1":400,"p":0.018},{"b0":400,"b1":425,"p":0.03},{"b0":425,"b1":450,"p":0.054}],
"h3": [{"b0":-50,"b1":-25,"p":0.005},{"b0":0,"b1":25,"p":0.005},{"b0":25,"b1":50,"p":0.005},{"b0":75,"b1":100,"p":0.056},{"b0":100,"b1":125,"p":0.077},{"b0":125,"b1":150,"p":0.02},{"b0":150,"b1":175,"p":0.005},{"b0":175,"b1":200,"p":0.035},{"b0":200,"b1":225,"p":0.072},{"b0":225,"b1":250,"p":0.072},{"b0":250,"b1":275,"p":0.066},{"b0":275,"b1":300,"p":0.082},{"b0":300,"b1":325,"p":0.056},{"b0":325,"b1":350,"p":0.066},{"b0":350,"b1":375,"p":0.082},{"b0":375,"b1":400,"p":0.035},{"b0":400,"b1":425,"p":0.061},{"b0":425,"b1":450,"p":0.01}]
},
"spacing": 10,
"resolve": {"scale": {"color": "independent", "fill": "independent", "strokeDash": "independent"}, "legend": {"color": "independent", "strokeDash": "independent"}},
"vconcat": [
{"spacing": 34, "bounds": "flush",
 "resolve": {"scale": {"color": "independent", "fill": "independent", "strokeDash": "independent"}, "legend": {"color": "independent", "strokeDash": "independent"}},
 "hconcat": [
  {"width": 170, "height": 129, "title": {"text": "A", "dx": -3},
   "layer": [
    {"data": {"values": [{}]}, "mark": {"type": "rule", "color": "#c4c4c4", "strokeWidth": 1.2}, "encoding": {"y": {"datum": 0, "type": "quantitative", "scale": {"domain": [-0.5, 3.6], "nice": false}, "axis": {"values": [0, 1, 2, 3]}, "title": "Force [N]"}}},
    {"data": {"name": "m1"}, "mark": {"type": "area", "interpolate": "monotone", "opacity": 0.8}, "encoding": {"x": {"field": "t", "type": "quantitative", "scale": {"domain": [-100, 450], "nice": false}, "axis": {"values": [-100, 0, 100, 200, 300, 400], "labelOverlap": false}, "title": "Time [ms]"}, "y": {"field": "lo", "type": "quantitative", "stack": null, "scale": {"domain": [-0.5, 3.6], "nice": false}, "axis": {"values": [0, 1, 2, 3]}, "title": "Force [N]"}, "y2": {"field": "hi"}, "fill": {"field": "s", "type": "nominal", "scale": {"domain": ["Actual Force", "Perturbation"], "range": ["#a9c3da", "#9ed3f5"]}, "legend": null}}},
    {"data": {"name": "m1"}, "mark": {"type": "line", "interpolate": "monotone", "strokeWidth": 2.5}, "encoding": {"x": {"field": "t", "type": "quantitative", "scale": {"domain": [-100, 450], "nice": false}, "axis": {"values": [-100, 0, 100, 200, 300, 400], "labelOverlap": false}, "title": "Time [ms]"}, "y": {"field": "m", "type": "quantitative", "scale": {"domain": [-0.5, 3.6], "nice": false}, "axis": {"values": [0, 1, 2, 3]}, "title": "Force [N]"}, "color": {"field": "s", "type": "nominal", "scale": {"domain": ["Perturbation", "Actual Force"], "range": ["#1b8fe2", "#0d4b88"]}, "legend": {"title": null, "orient": "top-left", "offset": 3}}, "strokeDash": {"field": "s", "type": "nominal", "scale": {"domain": ["Perturbation", "Actual Force"], "range": [[1, 0], [5, 3]]}, "legend": {"title": null, "orient": "top-left", "offset": 3}}}},
    {"data": {"values": [{}]}, "mark": {"type": "text", "align": "left", "baseline": "middle", "fontSize": 8.5, "fontWeight": "bold", "color": "#111111"}, "encoding": {"x": {"datum": 256, "type": "quantitative", "axis": {"values": [-100, 0, 100, 200, 300, 400], "labelOverlap": false}}, "y": {"datum": 3.3, "type": "quantitative"}, "text": {"value": "Group ND"}}}
   ]},
  {"width": 170, "height": 129,
   "layer": [
    {"data": {"values": [{}]}, "mark": {"type": "rule", "color": "#c4c4c4", "strokeWidth": 1.2}, "encoding": {"y": {"datum": 0, "type": "quantitative", "scale": {"domain": [-0.5, 3.6], "nice": false}, "axis": {"values": [0, 1, 2, 3]}, "title": "Force [N]"}}},
    {"data": {"name": "i1"}, "mark": {"type": "line", "interpolate": "monotone", "strokeWidth": 1.6}, "encoding": {"x": {"field": "t", "type": "quantitative", "scale": {"domain": [-100, 450], "nice": false}, "axis": {"values": [-100, 0, 100, 200, 300, 400], "labelOverlap": false}, "title": "Time [ms]"}, "y": {"field": "f", "type": "quantitative", "scale": {"domain": [-0.5, 3.6], "nice": false}, "axis": {"values": [0, 1, 2, 3]}, "title": "Force [N]"}, "color": {"field": "c", "type": "nominal", "scale": {"domain": ["c1","c2","c3","c4","c5","c6","c7","c8","c9","c10"], "range": ["#2a5fd0","#2fb7e8","#14168f","#2b8ce0","#1c5a80","#1879b0","#5ac8ee","#2466c2","#0e3d8c","#38a8d6"]}, "legend": null}}},
    {"data": {"values": [{}]}, "mark": {"type": "text", "align": "left", "baseline": "middle", "fontSize": 7.5, "fontWeight": "bold", "color": "#111111"}, "encoding": {"x": {"datum": -82, "type": "quantitative", "axis": {"values": [-100, 0, 100, 200, 300, 400], "labelOverlap": false}}, "y": {"datum": 3.3, "type": "quantitative"}, "text": {"value": "Actual Force"}}}
   ]},
  {"width": 72, "height": 125, "title": {"text": "B", "dx": -10}, "data": {"name": "p1"}, "mark": {"type": "bar", "color": "#1a8fe6"},
   "encoding": {"x": {"field": "n", "type": "ordinal", "scale": {"paddingInner": 0.1, "paddingOuter": 0.32, "align": 0.1}, "axis": {"labelAngle": 0}, "title": "# Peaks"}, "y": {"field": "p", "type": "quantitative", "scale": {"domain": [0, 0.55], "nice": false}, "axis": {"values": [0, 0.1, 0.2, 0.3, 0.4, 0.5], "format": "~g"}, "title": "Probability"}}},
  {"width": 170, "height": 125, "title": {"text": "C", "dx": -6, "dy": 3}, "data": {"name": "h1"}, "mark": {"type": "bar", "color": "#0b5aa2", "stroke": "#ffffff", "strokeOpacity": 0.5, "strokeWidth": 0.8},
   "encoding": {"x": {"field": "b0", "type": "quantitative", "scale": {"domain": [-100, 450], "nice": false}, "axis": {"values": [-100, 0, 100, 200, 300, 400], "labelOverlap": false}, "title": "Times of Peak Forces [ms]"}, "x2": {"field": "b1"}, "y": {"field": "p", "type": "quantitative", "scale": {"domain": [0, 0.2], "nice": false}, "axis": {"values": [0, 0.04, 0.08, 0.12, 0.16, 0.2], "format": "~g"}, "title": "Probability"}, "y2": {"datum": 0}}}
 ]},
{"spacing": 34, "bounds": "flush",
 "resolve": {"scale": {"color": "independent", "fill": "independent", "strokeDash": "independent"}, "legend": {"color": "independent", "strokeDash": "independent"}},
 "hconcat": [
  {"width": 170, "height": 129, "title": {"text": "D", "dx": -3},
   "layer": [
    {"data": {"values": [{}]}, "mark": {"type": "rule", "color": "#c4c4c4", "strokeWidth": 1.2}, "encoding": {"y": {"datum": 0, "type": "quantitative", "scale": {"domain": [-0.5, 3.6], "nice": false}, "axis": {"values": [0, 1, 2, 3]}, "title": "Force [N]"}}},
    {"data": {"name": "m2"}, "mark": {"type": "area", "interpolate": "monotone", "opacity": 0.8}, "encoding": {"x": {"field": "t", "type": "quantitative", "scale": {"domain": [-100, 450], "nice": false}, "axis": {"values": [-100, 0, 100, 200, 300, 400], "labelOverlap": false}, "title": "Time [ms]"}, "y": {"field": "lo", "type": "quantitative", "stack": null, "scale": {"domain": [-0.5, 3.6], "nice": false}, "axis": {"values": [0, 1, 2, 3]}, "title": "Force [N]"}, "y2": {"field": "hi"}, "fill": {"field": "s", "type": "nominal", "scale": {"domain": ["Actual Force", "Perturbation"], "range": ["#d9cbb0", "#fde6a2"]}, "legend": null}}},
    {"data": {"name": "m2"}, "mark": {"type": "line", "interpolate": "monotone", "strokeWidth": 2.5}, "encoding": {"x": {"field": "t", "type": "quantitative", "scale": {"domain": [-100, 450], "nice": false}, "axis": {"values": [-100, 0, 100, 200, 300, 400], "labelOverlap": false}, "title": "Time [ms]"}, "y": {"field": "m", "type": "quantitative", "scale": {"domain": [-0.5, 3.6], "nice": false}, "axis": {"values": [0, 1, 2, 3]}, "title": "Force [N]"}, "color": {"field": "s", "type": "nominal", "scale": {"domain": ["Perturbation", "Actual Force"], "range": ["#f6b500", "#936411"]}, "legend": {"title": null, "orient": "top-left", "offset": 3}}, "strokeDash": {"field": "s", "type": "nominal", "scale": {"domain": ["Perturbation", "Actual Force"], "range": [[1, 0], [5, 3]]}, "legend": {"title": null, "orient": "top-left", "offset": 3}}}},
    {"data": {"values": [{}]}, "mark": {"type": "text", "align": "left", "baseline": "middle", "fontSize": 8.5, "fontWeight": "bold", "color": "#111111"}, "encoding": {"x": {"datum": 256, "type": "quantitative", "axis": {"values": [-100, 0, 100, 200, 300, 400], "labelOverlap": false}}, "y": {"datum": 3.3, "type": "quantitative"}, "text": {"value": "Group D70"}}}
   ]},
  {"width": 170, "height": 129,
   "layer": [
    {"data": {"values": [{}]}, "mark": {"type": "rule", "color": "#c4c4c4", "strokeWidth": 1.2}, "encoding": {"y": {"datum": 0, "type": "quantitative", "scale": {"domain": [-0.5, 3.6], "nice": false}, "axis": {"values": [0, 1, 2, 3]}, "title": "Force [N]"}}},
    {"data": {"name": "i2"}, "mark": {"type": "line", "interpolate": "monotone", "strokeWidth": 1.6}, "encoding": {"x": {"field": "t", "type": "quantitative", "scale": {"domain": [-100, 450], "nice": false}, "axis": {"values": [-100, 0, 100, 200, 300, 400], "labelOverlap": false}, "title": "Time [ms]"}, "y": {"field": "f", "type": "quantitative", "scale": {"domain": [-0.5, 3.6], "nice": false}, "axis": {"values": [0, 1, 2, 3]}, "title": "Force [N]"}, "color": {"field": "c", "type": "nominal", "scale": {"domain": ["c1","c2","c3","c4","c5","c6","c7","c8","c9","c10"], "range": ["#b04a1c","#7a4808","#f6d57e","#ffc300","#f2a900","#e0781a","#ffd830","#9c6c0a","#c8700f","#ffe39a"]}, "legend": null}}},
    {"data": {"values": [{}]}, "mark": {"type": "text", "align": "left", "baseline": "middle", "fontSize": 7.5, "fontWeight": "bold", "color": "#111111"}, "encoding": {"x": {"datum": -82, "type": "quantitative", "axis": {"values": [-100, 0, 100, 200, 300, 400], "labelOverlap": false}}, "y": {"datum": 3.3, "type": "quantitative"}, "text": {"value": "Actual Force"}}}
   ]},
  {"width": 72, "height": 125, "title": {"text": "E", "dx": -10}, "data": {"name": "p2"}, "mark": {"type": "bar", "color": "#ffbb00"},
   "encoding": {"x": {"field": "n", "type": "ordinal", "scale": {"paddingInner": 0.1, "paddingOuter": 0.32, "align": 0.1}, "axis": {"labelAngle": 0}, "title": "# Peaks"}, "y": {"field": "p", "type": "quantitative", "scale": {"domain": [0, 0.55], "nice": false}, "axis": {"values": [0, 0.1, 0.2, 0.3, 0.4, 0.5], "format": "~g"}, "title": "Probability"}}},
  {"width": 170, "height": 125, "title": {"text": "F", "dx": -6, "dy": 3}, "data": {"name": "h2"}, "mark": {"type": "bar", "color": "#b8860b", "stroke": "#ffffff", "strokeOpacity": 0.5, "strokeWidth": 0.8},
   "encoding": {"x": {"field": "b0", "type": "quantitative", "scale": {"domain": [-100, 450], "nice": false}, "axis": {"values": [-100, 0, 100, 200, 300, 400], "labelOverlap": false}, "title": "Times of Peak Forces [ms]"}, "x2": {"field": "b1"}, "y": {"field": "p", "type": "quantitative", "scale": {"domain": [0, 0.2], "nice": false}, "axis": {"values": [0, 0.04, 0.08, 0.12, 0.16, 0.2], "format": "~g"}, "title": "Probability"}, "y2": {"datum": 0}}}
 ]},
{"spacing": 34, "bounds": "flush",
 "resolve": {"scale": {"color": "independent", "fill": "independent", "strokeDash": "independent"}, "legend": {"color": "independent", "strokeDash": "independent"}},
 "hconcat": [
  {"width": 170, "height": 129, "title": {"text": "G", "dx": -3},
   "layer": [
    {"data": {"values": [{}]}, "mark": {"type": "rule", "color": "#c4c4c4", "strokeWidth": 1.2}, "encoding": {"y": {"datum": 0, "type": "quantitative", "scale": {"domain": [-0.5, 3.6], "nice": false}, "axis": {"values": [0, 1, 2, 3]}, "title": "Force [N]"}}},
    {"data": {"name": "m3"}, "mark": {"type": "area", "interpolate": "monotone", "opacity": 0.8}, "encoding": {"x": {"field": "t", "type": "quantitative", "scale": {"domain": [-100, 450], "nice": false}, "axis": {"values": [-100, 0, 100, 200, 300, 400], "labelOverlap": false}, "title": "Time [ms]"}, "y": {"field": "lo", "type": "quantitative", "stack": null, "scale": {"domain": [-0.5, 3.6], "nice": false}, "axis": {"values": [0, 1, 2, 3]}, "title": "Force [N]"}, "y2": {"field": "hi"}, "fill": {"field": "s", "type": "nominal", "scale": {"domain": ["Actual Force", "Perturbation"], "range": ["#ddb3bf", "#f3bcc8"]}, "legend": null}}},
    {"data": {"name": "m3"}, "mark": {"type": "line", "interpolate": "monotone", "strokeWidth": 2.5}, "encoding": {"x": {"field": "t", "type": "quantitative", "scale": {"domain": [-100, 450], "nice": false}, "axis": {"values": [-100, 0, 100, 200, 300, 400], "labelOverlap": false}, "title": "Time [ms]"}, "y": {"field": "m", "type": "quantitative", "scale": {"domain": [-0.5, 3.6], "nice": false}, "axis": {"values": [0, 1, 2, 3]}, "title": "Force [N]"}, "color": {"field": "s", "type": "nominal", "scale": {"domain": ["Perturbation", "Actual Force"], "range": ["#c8102e", "#6a0f22"]}, "legend": {"title": null, "orient": "top-left", "offset": 3}}, "strokeDash": {"field": "s", "type": "nominal", "scale": {"domain": ["Perturbation", "Actual Force"], "range": [[1, 0], [5, 3]]}, "legend": {"title": null, "orient": "top-left", "offset": 3}}}},
    {"data": {"values": [{}]}, "mark": {"type": "text", "align": "left", "baseline": "middle", "fontSize": 8.5, "fontWeight": "bold", "color": "#111111"}, "encoding": {"x": {"datum": 256, "type": "quantitative", "axis": {"values": [-100, 0, 100, 200, 300, 400], "labelOverlap": false}}, "y": {"datum": 3.3, "type": "quantitative"}, "text": {"value": "Group D100"}}}
   ]},
  {"width": 170, "height": 129,
   "layer": [
    {"data": {"values": [{}]}, "mark": {"type": "rule", "color": "#c4c4c4", "strokeWidth": 1.2}, "encoding": {"y": {"datum": 0, "type": "quantitative", "scale": {"domain": [-0.5, 3.6], "nice": false}, "axis": {"values": [0, 1, 2, 3]}, "title": "Force [N]"}}},
    {"data": {"name": "i3"}, "mark": {"type": "line", "interpolate": "monotone", "strokeWidth": 1.6}, "encoding": {"x": {"field": "t", "type": "quantitative", "scale": {"domain": [-100, 450], "nice": false}, "axis": {"values": [-100, 0, 100, 200, 300, 400], "labelOverlap": false}, "title": "Time [ms]"}, "y": {"field": "f", "type": "quantitative", "scale": {"domain": [-0.5, 3.6], "nice": false}, "axis": {"values": [0, 1, 2, 3]}, "title": "Force [N]"}, "color": {"field": "c", "type": "nominal", "scale": {"domain": ["c1","c2","c3","c4","c5","c6","c7","c8","c9","c10"], "range": ["#ef5b5b","#d01010","#f58a78","#e0238c","#f678b8","#a0122a","#f07030","#e23c2c","#ff5a88","#f4a262"]}, "legend": null}}},
    {"data": {"values": [{}]}, "mark": {"type": "text", "align": "left", "baseline": "middle", "fontSize": 7.5, "fontWeight": "bold", "color": "#111111"}, "encoding": {"x": {"datum": -82, "type": "quantitative", "axis": {"values": [-100, 0, 100, 200, 300, 400], "labelOverlap": false}}, "y": {"datum": 3.3, "type": "quantitative"}, "text": {"value": "Actual Force"}}}
   ]},
  {"width": 72, "height": 125, "title": {"text": "H", "dx": -10}, "data": {"name": "p3"}, "mark": {"type": "bar", "color": "#c8102e"},
   "encoding": {"x": {"field": "n", "type": "ordinal", "scale": {"paddingInner": 0.1, "paddingOuter": 0.32, "align": 0.1}, "axis": {"labelAngle": 0}, "title": "# Peaks"}, "y": {"field": "p", "type": "quantitative", "scale": {"domain": [0, 0.55], "nice": false}, "axis": {"values": [0, 0.1, 0.2, 0.3, 0.4, 0.5], "format": "~g"}, "title": "Probability"}}},
  {"width": 170, "height": 125, "title": {"text": "I", "dx": -6, "dy": 3}, "data": {"name": "h3"}, "mark": {"type": "bar", "color": "#7d0a1e", "stroke": "#ffffff", "strokeOpacity": 0.5, "strokeWidth": 0.8},
   "encoding": {"x": {"field": "b0", "type": "quantitative", "scale": {"domain": [-100, 450], "nice": false}, "axis": {"values": [-100, 0, 100, 200, 300, 400], "labelOverlap": false}, "title": "Times of Peak Forces [ms]"}, "x2": {"field": "b1"}, "y": {"field": "p", "type": "quantitative", "scale": {"domain": [0, 0.2], "nice": false}, "axis": {"values": [0, 0.04, 0.08, 0.12, 0.16, 0.2], "format": "~g"}, "title": "Probability"}, "y2": {"datum": 0}}}
 ]}
]
}
